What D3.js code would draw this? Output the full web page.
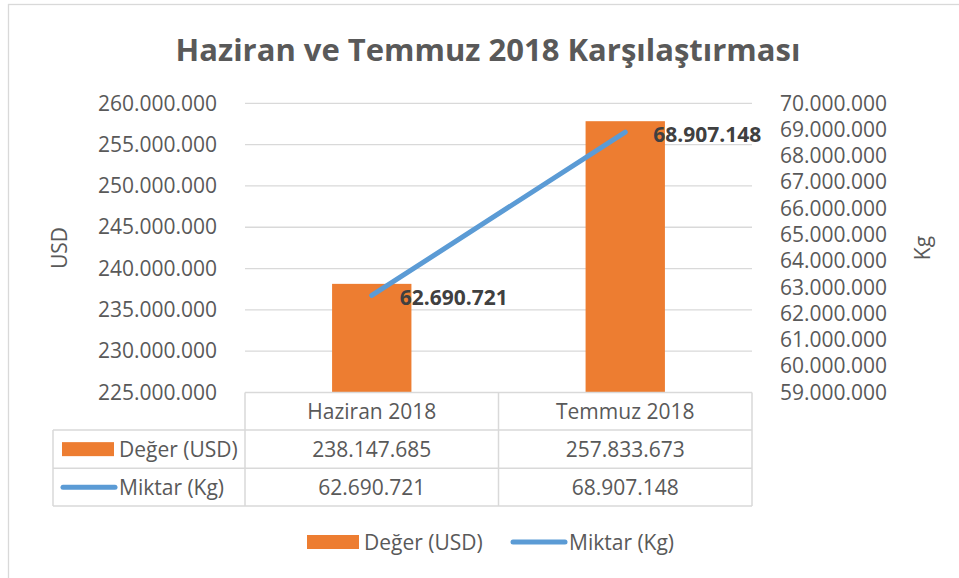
<!DOCTYPE html>
<html>
<head>
<meta charset="utf-8">
<script src="https://cdn.jsdelivr.net/npm/d3@7"></script>
<style>
    body { margin: 0; background: #fff; }
    svg { display: block; font-family: 'Open Sans', 'Noto Sans', sans-serif; }
</style>
</head>
<body>
<div id="chart"></div>
<script>
// Chart data
const categories = ['Haziran 2018', 'Temmuz 2018'];
const degerUSD = [238147685, 257833673];
const miktarKg = [62690721, 68907148];
const leftTicks = [225000000, 230000000, 235000000, 240000000, 245000000, 250000000, 255000000, 260000000];
const rightTicks = [59000000, 60000000, 61000000, 62000000, 63000000, 64000000, 65000000, 66000000, 67000000, 68000000, 69000000, 70000000];
const seriesNames = ['Değer (USD)', 'Miktar (Kg)'];

const width = 959, height = 578;
const plot = {left: 245, right: 752, top: 103.3, bottom: 392.5};
const orange = '#ED7D31', blue = '#5B9BD5', grid = '#d9d9d9', textColor = '#595959';

// Turkish style number format (dot as thousands separator)
const trLocale = d3.formatLocale({decimal: ',', thousands: '.', grouping: [3], currency: ['', '₺']});
const fmt = trLocale.format(',d');

const svg = d3.select('#chart')
    .append('svg')
    .attr('width', width)
    .attr('height', height);

// Chart border (left and top visible)
svg.append('rect')
    .attr('x', 8.5).attr('y', 4.5)
    .attr('width', width + 10).attr('height', height + 10)
    .attr('fill', 'none')
    .attr('stroke', grid)
    .attr('stroke-width', 1.3);

// Scales
const x = d3.scaleBand()
    .domain(categories)
    .range([plot.left, plot.right]);

const yLeft = d3.scaleLinear()
    .domain([d3.min(leftTicks), d3.max(leftTicks)])
    .range([plot.bottom, plot.top]);

const yRight = d3.scaleLinear()
    .domain([d3.min(rightTicks), d3.max(rightTicks)])
    .range([plot.bottom, plot.top]);

const barWidth = x.bandwidth() * 0.313;
const cx = d => x(d) + x.bandwidth() / 2;

// Title
svg.append('text')
    .attr('x', 488)
    .attr('y', 61)
    .attr('text-anchor', 'middle')
    .style('font-size', '31px')
    .style('font-weight', 'bold')
    .attr('fill', textColor)
    .text('Haziran ve Temmuz 2018 Karşılaştırması');

// Gridlines
svg.append('g')
    .selectAll('line')
    .data(leftTicks.slice(1))
    .enter()
    .append('line')
    .attr('x1', plot.left).attr('x2', plot.right)
    .attr('y1', d => yLeft(d)).attr('y2', d => yLeft(d))
    .attr('stroke', grid)
    .attr('stroke-width', 1.3);

// Left axis
const leftAxis = svg.append('g')
    .attr('transform', `translate(217,0)`)
    .call(d3.axisLeft(yLeft).tickValues(leftTicks).tickSize(0).tickPadding(0).tickFormat(fmt));
leftAxis.select('.domain').remove();
leftAxis.selectAll('text')
    .style('font-size', '21px')
    .style('font-family', "'Open Sans', sans-serif")
    .attr('fill', textColor);

// Right axis
const rightAxis = svg.append('g')
    .attr('transform', `translate(780,0)`)
    .call(d3.axisRight(yRight).tickValues(rightTicks).tickSize(0).tickPadding(0).tickFormat(fmt));
rightAxis.select('.domain').remove();
rightAxis.selectAll('text')
    .style('font-size', '21px')
    .style('font-family', "'Open Sans', sans-serif")
    .attr('fill', textColor);

// Axis titles
svg.append('text')
    .attr('transform', 'translate(59,248) rotate(-90)')
    .attr('text-anchor', 'middle')
    .attr('dominant-baseline', 'central')
    .style('font-size', '21px')
    .attr('fill', textColor)
    .text('USD');

svg.append('text')
    .attr('transform', 'translate(922,248) rotate(-90)')
    .attr('text-anchor', 'middle')
    .attr('dominant-baseline', 'central')
    .style('font-size', '21px')
    .attr('fill', textColor)
    .text('Kg');

// Bars
svg.append('g')
    .selectAll('rect')
    .data(categories)
    .enter()
    .append('rect')
    .attr('x', d => cx(d) - barWidth / 2)
    .attr('width', barWidth)
    .attr('y', (d, i) => yLeft(degerUSD[i]))
    .attr('height', (d, i) => plot.bottom - yLeft(degerUSD[i]))
    .attr('fill', orange);

// Line
const line = d3.line()
    .x((d, i) => cx(categories[i]))
    .y(d => yRight(d));

svg.append('path')
    .datum(miktarKg)
    .attr('d', line)
    .attr('fill', 'none')
    .attr('stroke', blue)
    .attr('stroke-width', 5)
    .attr('stroke-linecap', 'round');

// Line data labels
svg.append('g')
    .selectAll('text')
    .data(miktarKg)
    .enter()
    .append('text')
    .attr('x', (d, i) => cx(categories[i]) + 28)
    .attr('y', d => yRight(d) + 2)
    .attr('dominant-baseline', 'central')
    .style('font-size', '21px')
    .style('font-weight', 'bold')
    .attr('fill', '#404040')
    .text(d => fmt(d));

// Data table
const tableLeft = 53;
const rowY = [plot.bottom, 430, 468.3, 506];
const table = svg.append('g')
    .attr('stroke', grid)
    .attr('stroke-width', 1.5);

table.append('line')
    .attr('x1', plot.left).attr('x2', plot.right)
    .attr('y1', rowY[0]).attr('y2', rowY[0]);
rowY.slice(1).forEach(y => {
    table.append('line')
        .attr('x1', tableLeft).attr('x2', plot.right)
        .attr('y1', y).attr('y2', y);
});
[plot.left, x(categories[1]), plot.right].forEach(xv => {
    table.append('line')
        .attr('x1', xv).attr('x2', xv)
        .attr('y1', rowY[0]).attr('y2', rowY[3]);
});
table.append('line')
    .attr('x1', tableLeft).attr('x2', tableLeft)
    .attr('y1', rowY[1]).attr('y2', rowY[3]);

const rowMid = i => (rowY[i] + rowY[i + 1]) / 2;

// Header row (categories)
svg.append('g')
    .selectAll('text')
    .data(categories)
    .enter()
    .append('text')
    .attr('x', d => cx(d))
    .attr('y', rowMid(0))
    .attr('text-anchor', 'middle')
    .attr('dominant-baseline', 'central')
    .style('font-size', '21px')
    .attr('fill', textColor)
    .text(d => d);

// Value rows
[degerUSD, miktarKg].forEach((series, r) => {
    svg.append('g')
        .selectAll('text')
        .data(series)
        .enter()
        .append('text')
        .attr('x', (d, i) => cx(categories[i]))
        .attr('y', rowMid(r + 1))
        .attr('text-anchor', 'middle')
        .attr('dominant-baseline', 'central')
        .style('font-size', '21px')
        .attr('fill', textColor)
        .text(d => fmt(d));
});

// Legend keys inside table
function legendKey(g, type, x0, y0) {
    if (type === 'bar') {
        g.append('rect')
            .attr('x', x0).attr('y', y0 - 7)
            .attr('width', 52).attr('height', 14)
            .attr('fill', orange);
    } else {
        g.append('line')
            .attr('x1', x0 + 1).attr('x2', x0 + 53)
            .attr('y1', y0).attr('y2', y0)
            .attr('stroke', blue)
            .attr('stroke-width', 5)
            .attr('stroke-linecap', 'round');
    }
}

const tableKeys = svg.append('g');
seriesNames.forEach((name, i) => {
    const y0 = rowMid(i + 1);
    legendKey(tableKeys, i === 0 ? 'bar' : 'line', 62, y0);
    tableKeys.append('text')
        .attr('x', 119)
        .attr('y', y0)
        .attr('dominant-baseline', 'central')
        .style('font-size', '21px')
        .attr('fill', textColor)
        .text(name);
});

// Bottom legend
const legend = svg.append('g');
const legendX = [307, 512];
seriesNames.forEach((name, i) => {
    legendKey(legend, i === 0 ? 'bar' : 'line', legendX[i], 542);
    legend.append('text')
        .attr('x', legendX[i] + 57)
        .attr('y', 542)
        .attr('dominant-baseline', 'central')
        .style('font-size', '21px')
        .attr('fill', textColor)
        .text(name);
});
</script>
</body>
</html>
